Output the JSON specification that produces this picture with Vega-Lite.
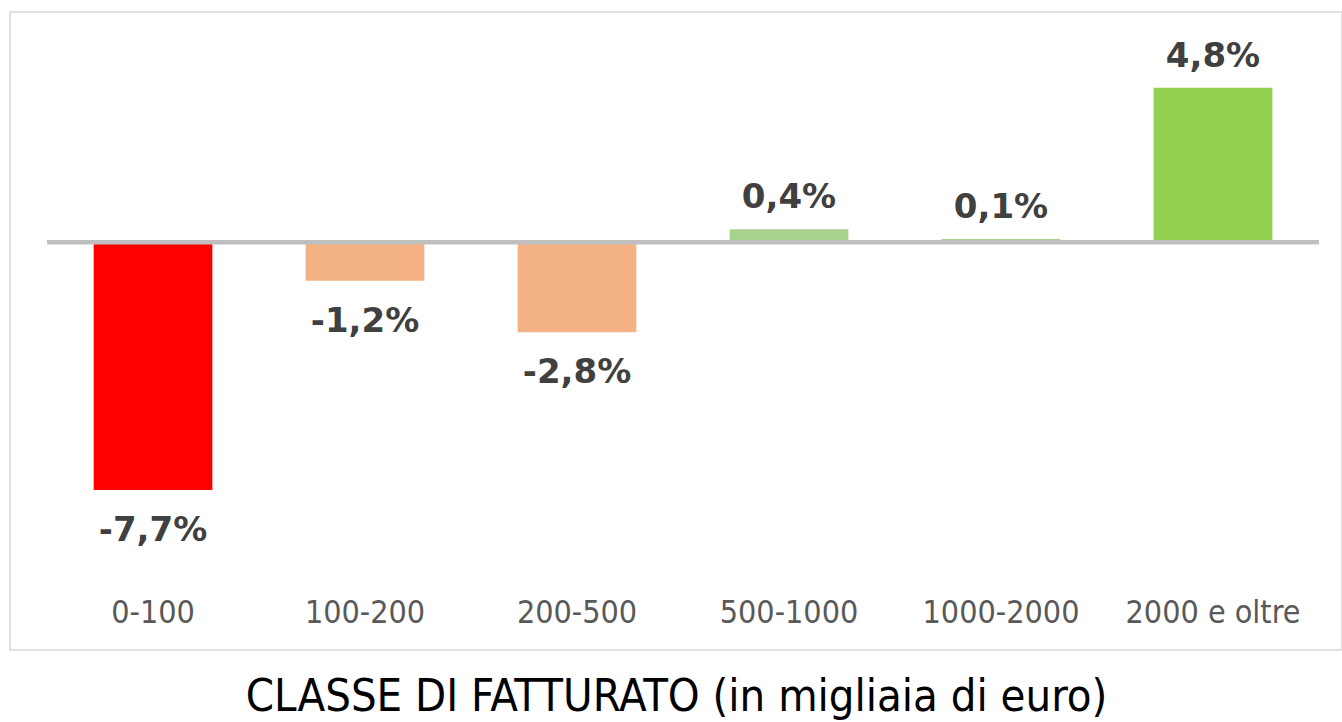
{
  "$schema": "https://vega.github.io/schema/vega-lite/v6.json",
  "width": 1332,
  "height": 638,
  "autosize": {"type": "none"},
  "padding": {"left": 10, "top": 12, "right": 0, "bottom": 72},
  "background": "white",
  "config": {
    "view": {"stroke": "#D9D9D9", "strokeWidth": 1.5},
    "locale": {"number": {"decimal": ",", "thousands": ".", "grouping": [3], "currency": ["", " €"], "minus": "-"}}
  },
  "data": {
    "values": [
      {"classe": "0-100", "value": -0.077},
      {"classe": "100-200", "value": -0.012},
      {"classe": "200-500", "value": -0.028},
      {"classe": "500-1000", "value": 0.004},
      {"classe": "1000-2000", "value": 0.001},
      {"classe": "2000 e oltre", "value": 0.048}
    ]
  },
  "encoding": {
    "x": {
      "field": "classe",
      "type": "nominal",
      "sort": null,
      "scale": {"paddingInner": 0.44, "paddingOuter": 0.3616, "align": 0.5457},
      "axis": {
        "title": "CLASSE DI FATTURATO (in migliaia di euro)",
        "titleFont": "DejaVu Sans Condensed, DejaVu Sans",
        "titleFontSize": 45,
        "titleFontWeight": "normal",
        "titleColor": "#000000",
        "titleBaseline": "alphabetic",
        "titleY": 100,
        "labelFont": "DejaVu Sans Condensed, DejaVu Sans",
        "labelFontSize": 32,
        "labelColor": "#595959",
        "labelAngle": 0,
        "labelBaseline": "alphabetic",
        "labelPadding": 12,
        "offset": -40,
        "domain": false,
        "ticks": false,
        "tickSize": 0,
        "grid": false
      }
    }
  },
  "layer": [
    {
      "mark": {"type": "bar"},
      "encoding": {
        "y": {"field": "value", "type": "quantitative", "scale": {"domain": [-0.12676, 0.07156], "nice": false, "zero": false}, "axis": null},
        "color": {
          "field": "classe",
          "type": "nominal",
          "scale": {
            "domain": ["0-100", "100-200", "200-500", "500-1000", "1000-2000", "2000 e oltre"],
            "range": ["#FF0000", "#F4B183", "#F4B183", "#A9D18E", "#A9D18E", "#92D050"]
          },
          "legend": null
        }
      }
    },
    {
      "mark": {"type": "bar", "width": {"band": 1.7857}, "fill": null, "stroke": "#BFBFBF", "strokeWidth": 4.5},
      "encoding": {
        "y": {"datum": 0, "type": "quantitative"},
        "y2": {"datum": 0}
      }
    },
    {
      "transform": [{"filter": "datum.value >= 0"}],
      "mark": {"type": "text", "baseline": "alphabetic", "dy": -21, "font": "DejaVu Sans", "fontWeight": "bold", "fontSize": 34, "fill": "#404040"},
      "encoding": {
        "y": {"field": "value", "type": "quantitative"},
        "text": {"field": "value", "type": "quantitative", "format": ".1%"}
      }
    },
    {
      "transform": [{"filter": "datum.value < 0"}],
      "mark": {"type": "text", "baseline": "alphabetic", "dy": 51, "font": "DejaVu Sans", "fontWeight": "bold", "fontSize": 34, "fill": "#404040"},
      "encoding": {
        "y": {"field": "value", "type": "quantitative"},
        "text": {"field": "value", "type": "quantitative", "format": ".1%"}
      }
    }
  ]
}
